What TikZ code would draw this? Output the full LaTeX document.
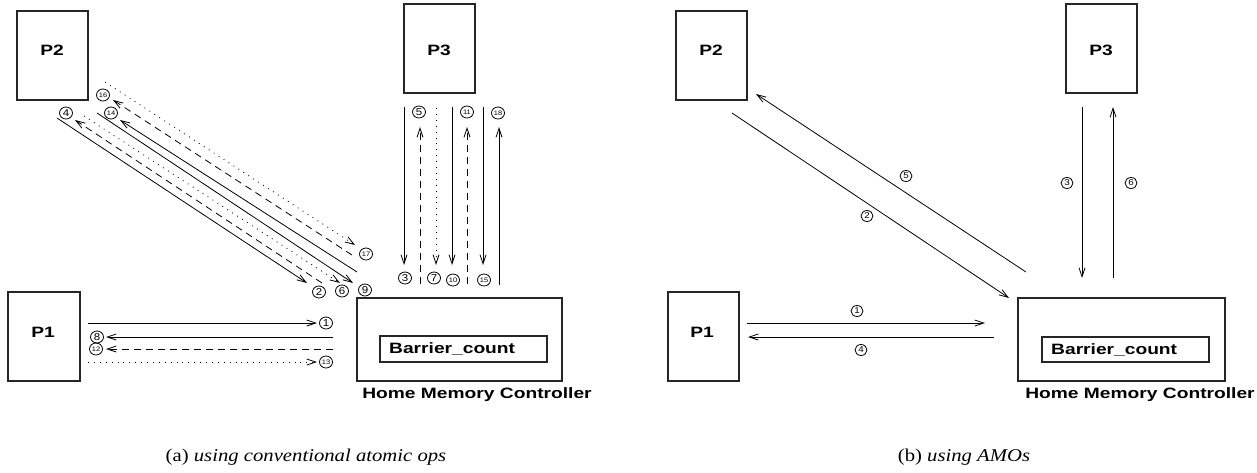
\documentclass[tikz,border=0pt]{standalone}
\usepackage{fontspec}
\usetikzlibrary{arrows.meta,calc,shapes.geometric}
\newfontfamily\labfont[FakeStretch=1.28]{Liberation Sans}
\newfontfamily\numfont[FakeStretch=1.15]{Liberation Sans}
\newfontfamily\capfont[FakeStretch=1.15]{Liberation Serif}
\tikzset{
  pbox/.style={draw=black!85, line width=1.1pt, inner sep=0pt, rectangle, minimum width=71pt, minimum height=89pt},
  plab/.style={font=\labfont\bfseries\fontsize{15}{15}\selectfont, inner sep=0pt},
  conn/.style={line width=0.8pt, -{Straight Barb[length=9pt,width=6pt]}},
  dsh/.style={dash pattern=on 7pt off 5pt},
  dtt/.style={dash pattern=on 0.9pt off 5pt},
  num/.style={draw, ellipse, minimum width=13pt, minimum height=12pt, inner sep=0pt, line width=0.8pt, font=\numfont\fontsize{10}{10}\selectfont},
  snum/.style={num, font=\numfont\fontsize{6.5}{6.5}\selectfont},
  bnum/.style={num, minimum width=12pt, minimum height=11pt, font=\numfont\fontsize{8.5}{8.5}\selectfont},
  capt/.style={font=\capfont\fontsize{18}{18}\selectfont, inner sep=0pt},
}
\begin{document}
\begin{tikzpicture}[x=1pt, y=-1pt]
\useasboundingbox (0,0) rectangle (1257,472);
% ---------------- panel (a) ----------------
\node[pbox] (aP2) at (52.5,55.5) {};
\node[plab] (aP2l) at (52,50) {P2};
\node[pbox] (aP3) at (439.5,48.5) {};
\node[plab] (aP3l) at (439,50) {P3};
\node[pbox, minimum width=72pt] (aP1) at (44,336.5) {};
\node[plab] (aP1l) at (43,332) {P1};
\node[pbox, minimum width=205pt, minimum height=83pt] (aHMC) at (459.5,339.5) {};
\node[pbox, minimum width=167pt, minimum height=26pt] (aBC) at (463.5,349) {};
\node[plab, anchor=west] (aBCl) at (389,349) {Barrier\_count};
\node[plab] (aHMCl) at (477,395) {Home Memory Controller};
% horizontal
\coordinate (a1s) at (88,323);  \coordinate (a1e) at (317,323);
\coordinate (a8s) at (333,337); \coordinate (a8e) at (106,337);
\coordinate (a12s) at (333,349); \coordinate (a12e) at (106,349);
\coordinate (a13s) at (88,362); \coordinate (a13e) at (317,362);
\draw[conn] (a1s) -- (a1e);
\draw[conn] (a8s) -- (a8e);
\draw[conn, dsh] (a12s) -- (a12e);
\draw[conn, dtt] (a13s) -- (a13e);
\node[num] (na1) at (326,323) {1};
\node[num] (na8) at (97,337) {8};
\node[snum] (na12) at (96,349) {12};
\node[snum] (na13) at (326,362) {13};
% diagonal
\coordinate (a2s) at (57,118);   \coordinate (a2e) at (307,283);
\coordinate (a4s) at (322,283);  \coordinate (a4e) at (75,120);
\coordinate (a6s) at (84,116);   \coordinate (a6e) at (340,283);
\coordinate (a9s) at (97,113);   \coordinate (a9e) at (353,283);
\coordinate (a14s) at (357,272); \coordinate (a14e) at (120,120);
\coordinate (a16s) at (352,255); \coordinate (a16e) at (113,100);
\coordinate (a17s) at (105,82);  \coordinate (a17e) at (355,245);
\draw[conn] (a2s) -- (a2e);
\draw[conn, dsh] (a4s) -- (a4e);
\draw[conn, dtt] (a6s) -- (a6e);
\draw[conn] (a9s) -- (a9e);
\draw[conn] (a14s) -- (a14e);
\draw[conn, dsh] (a16s) -- (a16e);
\draw[conn, dtt] (a17s) -- (a17e);
\node[num] (na2) at (319,292) {2};
\node[num] (na4) at (66,113) {4};
\node[num] (na6) at (342,291) {6};
\node[num] (na9) at (365,290) {9};
\node[snum] (na14) at (111,113) {14};
\node[snum] (na16) at (103,95) {16};
\node[snum] (na17) at (366,254) {17};
% vertical
\coordinate (a3s) at (404,107);  \coordinate (a3e) at (404,265);
\coordinate (a5s) at (420,284);  \coordinate (a5e) at (420,127);
\coordinate (a7s) at (436,108);  \coordinate (a7e) at (436,265);
\coordinate (a10s) at (452,107); \coordinate (a10e) at (452,265);
\coordinate (a11s) at (467,284); \coordinate (a11e) at (467,127);
\coordinate (a15s) at (483,107); \coordinate (a15e) at (483,265);
\coordinate (a18s) at (499,285); \coordinate (a18e) at (499,127);
\draw[conn] (a3s) -- (a3e);
\draw[conn, dsh] (a5s) -- (a5e);
\draw[conn, dtt] (a7s) -- (a7e);
\draw[conn] (a10s) -- (a10e);
\draw[conn, dsh] (a11s) -- (a11e);
\draw[conn] (a15s) -- (a15e);
\draw[conn] (a18s) -- (a18e);
\node[num] (na3) at (405,278) {3};
\node[num] (na5) at (419,112) {5};
\node[num] (na7) at (434,278) {7};
\node[snum] (na10) at (453,280) {10};
\node[snum] (na11) at (467,112) {11};
\node[snum] (na15) at (484,280) {15};
\node[snum] (na18) at (498,113) {18};
\node[capt] (capa) at (306,457) {(a) \textit{using conventional atomic ops}};
% ---------------- panel (b) ----------------
\node[pbox] (bP2) at (711.5,55.5) {};
\node[plab] (bP2l) at (711,50) {P2};
\node[pbox] (bP3) at (1101.5,48.5) {};
\node[plab] (bP3l) at (1101,50) {P3};
\node[pbox] (bP1) at (703.5,336.5) {};
\node[plab] (bP1l) at (702,332) {P1};
\node[pbox, minimum width=207pt, minimum height=83pt] (bHMC) at (1121.5,339.5) {};
\node[pbox, minimum width=167pt, minimum height=25pt] (bBC) at (1125.5,349.5) {};
\node[plab, anchor=west] (bBCl) at (1051,349.5) {Barrier\_count};
\node[plab] (bHMCl) at (1140,395) {Home Memory Controller};
\coordinate (b1s) at (747,323);  \coordinate (b1e) at (985,323);
\coordinate (b4s) at (994,337);  \coordinate (b4e) at (748,337);
\coordinate (b2s) at (732,113);  \coordinate (b2e) at (1009,298);
\coordinate (b5s) at (1026,272); \coordinate (b5e) at (756,94);
\coordinate (b3s) at (1082,107); \coordinate (b3e) at (1082,278);
\coordinate (b6s) at (1113,278); \coordinate (b6e) at (1113,107);
\draw[conn] (b1s) -- (b1e);
\draw[conn] (b4s) -- (b4e);
\draw[conn] (b2s) -- (b2e);
\draw[conn] (b5s) -- (b5e);
\draw[conn] (b3s) -- (b3e);
\draw[conn] (b6s) -- (b6e);
\node[bnum] (nb1) at (857,311) {1};
\node[bnum] (nb4) at (861,350) {4};
\node[bnum] (nb2) at (867,216) {2};
\node[bnum] (nb5) at (906,176) {5};
\node[bnum] (nb3) at (1067,183) {3};
\node[bnum] (nb6) at (1131,183) {6};
\node[capt] (capb) at (964,457) {(b) \textit{using AMOs}};
\end{tikzpicture}
\end{document}
